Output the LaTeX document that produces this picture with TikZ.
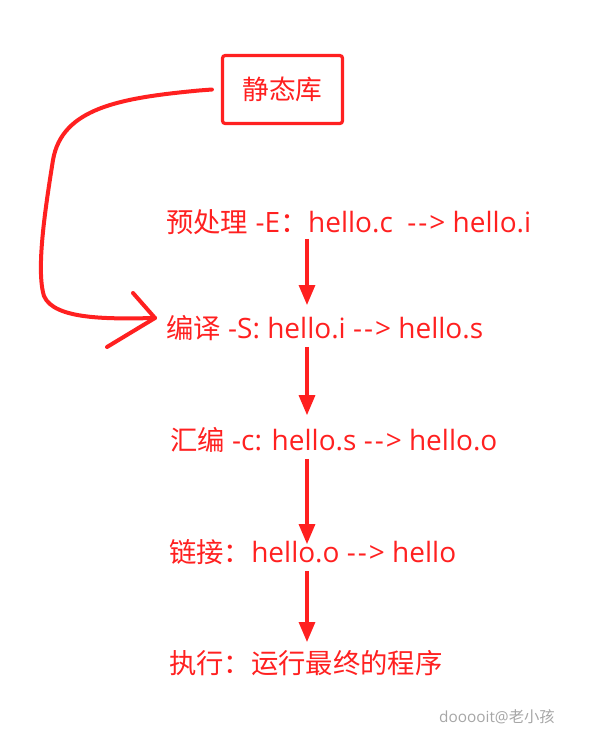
\documentclass[tikz,border=0pt]{standalone}
\usepackage{fontspec}
\setmainfont{Open Sans}
\newfontfamily\cjk{Noto Sans CJK SC}
\usepackage{tikz}
\usetikzlibrary{
  calc,          % offsets from node anchors
  arrows.meta    % triangle tips
}
\definecolor{inkred}{HTML}{FF2020}
\definecolor{markgray}{HTML}{A6A6A6}
% text arrow "-->"
\newcommand\yields{-\kern1.5pt-\kern1.5pt>}

\begin{document}
\begin{tikzpicture}[x=0.75pt, y=-0.75pt,
    stage/.style={anchor=west, inner sep=0pt, text=inkred, font=\fontsize{21}{24}\selectfont},
    flow/.style={draw=inkred, line width=2.4pt, -{Triangle[length=15pt, width=12pt]}},
    libbox/.style={draw=inkred, line width=2.4pt, rounded corners=2pt, minimum width=90pt, minimum height=51pt, text=inkred, font=\fontsize{20}{24}\selectfont\cjk},
    pen/.style={draw=inkred, line width=3pt, line cap=round, line join=round}]
        % Canvas
        \useasboundingbox (0,0) rectangle (596,736);

        % Static library box
        \node[libbox] (lib) at (282.5,89.5) {静态库};

        % Build stages
        \node[stage] (pre)  at (166,222) {{\cjk\fontsize{20.5}{24}\selectfont 预处理}\ -E{\cjk ：}hello.c\ \ \yields\ hello.i};
        \node[stage] (comp) at (166,328) {{\cjk\fontsize{20.5}{24}\selectfont 编译}\ -S: hello.i \yields\ hello.s};
        \node[stage] (asm)  at (170,440) {{\cjk\fontsize{20.5}{24}\selectfont 汇编}\ -c: hello.s \yields\ hello.o};
        \node[stage] (link) at (169,552) {{\cjk\fontsize{20.5}{24}\selectfont 链接：}hello.o \yields\ hello};
        \node[stage] (run)  at (169,663) {\cjk\fontsize{20.5}{24}\selectfont 执行：运行最终的程序};

        % Arrow column
        \coordinate (col) at (307,0);
        \draw[flow] (pre.south -| col)  ++(0,4)  -- ($(comp.north -| col)+(0,-10)$);
        \draw[flow] (comp.south -| col) ++(0,6)  -- ($(asm.north -| col)+(0,-12)$);
        \draw[flow] (asm.south -| col)  ++(0,6)  -- ($(link.north -| col)+(0,5)$);
        \draw[flow] (link.south -| col) ++(0,6)  -- ($(run.north -| col)+(0,-8)$);

        % Hand drawn link from the library to the compile step
        \coordinate (tip) at ($(comp.west)+(-11,-10)$);
        \draw[pen] ($(lib.west)+(-9,0)$) -- ++(-13,1)
            .. controls (120,98) and (62,108) .. (53,160)
            .. controls (45,210) and (36,270) .. (44,296)
            .. controls (54,320) and (110,319) .. (tip);
        \draw[pen] ($(tip)+(-22,-25)$) -- (tip) -- ($(tip)+(-48,29)$);

        % Watermark
        \node[text=markgray, font=\fontsize{11.5}{13}\selectfont] (mark) at (497,717) {dooooit@{\cjk 老小孩}};
    \end{tikzpicture}
\end{document}
